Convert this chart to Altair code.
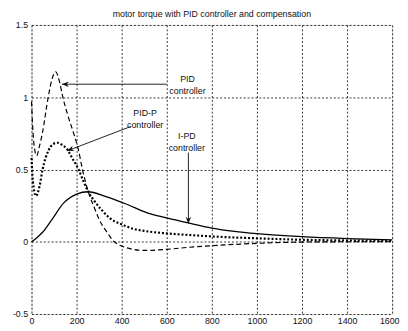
import altair as alt
import pandas as pd

# PID controller (dashed)
pid_x = [0, 5, 12, 23, 35, 48, 74, 90, 107, 122, 139, 160, 187, 209, 226, 252, 280, 300, 320, 340, 360, 380, 400, 450, 500, 600, 700, 800, 1000, 1200, 1400, 1600]
pid_y = [0.97, 0.80, 0.66, 0.595, 0.66, 0.75, 1.0, 1.12, 1.176, 1.12, 1.0, 0.88, 0.75, 0.63, 0.50, 0.346, 0.23, 0.155, 0.10, 0.055, 0.01, -0.015, -0.03, -0.052, -0.06, -0.052, -0.038, -0.027, -0.011, -0.002, 0.0, 0.0]

# PID-P controller (dotted)
pidp_x = [0, 6, 20, 35, 49, 75, 95, 114, 140, 158, 180, 209, 230, 252, 280, 310, 350, 400, 450, 500, 600, 700, 800, 1000, 1200, 1400, 1600]
pidp_y = [0.58, 0.42, 0.317, 0.38, 0.50, 0.63, 0.675, 0.685, 0.665, 0.64, 0.58, 0.50, 0.42, 0.346, 0.28, 0.222, 0.16, 0.12, 0.09, 0.075, 0.058, 0.047, 0.037, 0.024, 0.014, 0.009, 0.006]

# I-PD controller (solid)
ipd_x = [0, 25, 48, 91, 142, 200, 251, 330, 417, 513, 600, 696, 800, 900, 1000, 1200, 1400, 1600]
ipd_y = [0.0, 0.03, 0.064, 0.155, 0.267, 0.33, 0.346, 0.312, 0.263, 0.20, 0.165, 0.13, 0.095, 0.072, 0.056, 0.035, 0.022, 0.013]

# annotation texts
lbl_x = [692, 692, 504, 504, 689, 689]
lbl_y = [1.124, 1.045, 0.887, 0.805, 0.731, 0.651]
lbl_t = ["PID", "controller", "PID-P", "controller", "I-PD", "controller"]

# arrows (start -> tip) and tip angle
arr_x = [600, 441, 696]
arr_y = [1.09, 0.798, 0.617]
arr_x2 = [135, 158, 696]
arr_y2 = [1.09, 0.629, 0.125]
arr_ang = [180, 159, 90]

x_ticks = [0, 200, 400, 600, 800, 1000, 1200, 1400, 1600]
y_ticks = [-0.5, 0, 0.5, 1, 1.5]

FONT = "Liberation Sans"

xs = alt.Scale(domain=[0, 1600], nice=False, zero=False)
ys = alt.Scale(domain=[-0.5, 1.5], nice=False, zero=False)

xax = alt.Axis(values=x_ticks, title=None, grid=True, labelFontSize=9, labelFont=FONT,
               labelColor="#111", domain=False, ticks=False, labelPadding=3,
               gridColor="black", gridDash=[2, 2], gridWidth=0.8, labelFlush=False,
               format="d",
               labelAlign={"expr": "datum.value == 1600 ? 'right' : 'center'"},
               labelOffset={"expr": "datum.value == 1600 ? 7 : 0"})
yax = alt.Axis(values=y_ticks, title=None, grid=True, labelFontSize=9, labelFont=FONT,
               labelColor="#111", domain=False, ticks=False, labelPadding=4,
               gridColor="black", gridDash=[2, 2], gridWidth=0.8,
               labelExpr="toString(datum.value)")

def line_df(xv, yv):
    return pd.DataFrame({"x": xv, "y": yv})

base_enc = dict(x=alt.X("x:Q", scale=xs, axis=xax), y=alt.Y("y:Q", scale=ys, axis=yax))

pid = alt.Chart(line_df(pid_x, pid_y)).mark_line(
    color="black", strokeWidth=1.2, strokeDash=[5, 3], interpolate="monotone"
).encode(**base_enc)

pidp = alt.Chart(line_df(pidp_x, pidp_y)).mark_line(
    color="black", strokeWidth=2.2, strokeDash=[2, 2], interpolate="monotone"
).encode(x="x:Q", y="y:Q")

ipd = alt.Chart(line_df(ipd_x, ipd_y)).mark_line(
    color="black", strokeWidth=1.3, interpolate="monotone"
).encode(x="x:Q", y="y:Q")

lbl = alt.Chart(pd.DataFrame({"x": lbl_x, "y": lbl_y, "t": lbl_t})).mark_text(
    font=FONT, fontSize=9, color="#111", align="center", baseline="middle"
).encode(x="x:Q", y="y:Q", text="t:N")

adf = pd.DataFrame({"x": arr_x, "y": arr_y, "x2": arr_x2, "y2": arr_y2, "ang": arr_ang})
shafts = alt.Chart(adf).mark_rule(color="#222", strokeWidth=1).encode(
    x="x:Q", y="y:Q", x2="x2:Q", y2="y2:Q")
heads = alt.Chart(adf).mark_point(
    shape="M0,0L-1,-0.4L-0.7,0L-1,0.4Z", filled=True, color="#111", size=196, opacity=1
).encode(x="x2:Q", y="y2:Q", angle=alt.Angle("ang:Q", scale=None))

chart = alt.layer(pid, pidp, ipd, shafts, heads, lbl).properties(
    width=368, height=295,
    title=alt.TitleParams("motor torque with PID controller and compensation",
                          fontSize=9, font=FONT, fontWeight="normal", color="#111",
                          anchor="middle", offset=2),
    autosize=alt.AutoSizeParams(type="none"),
    padding={"left": 24, "top": 14, "right": 8, "bottom": 14},
).configure_view(stroke="#666", strokeWidth=1.2).configure(background="white")

chart.save("out.html", embed_options={"renderer": "svg", "actions": False})
